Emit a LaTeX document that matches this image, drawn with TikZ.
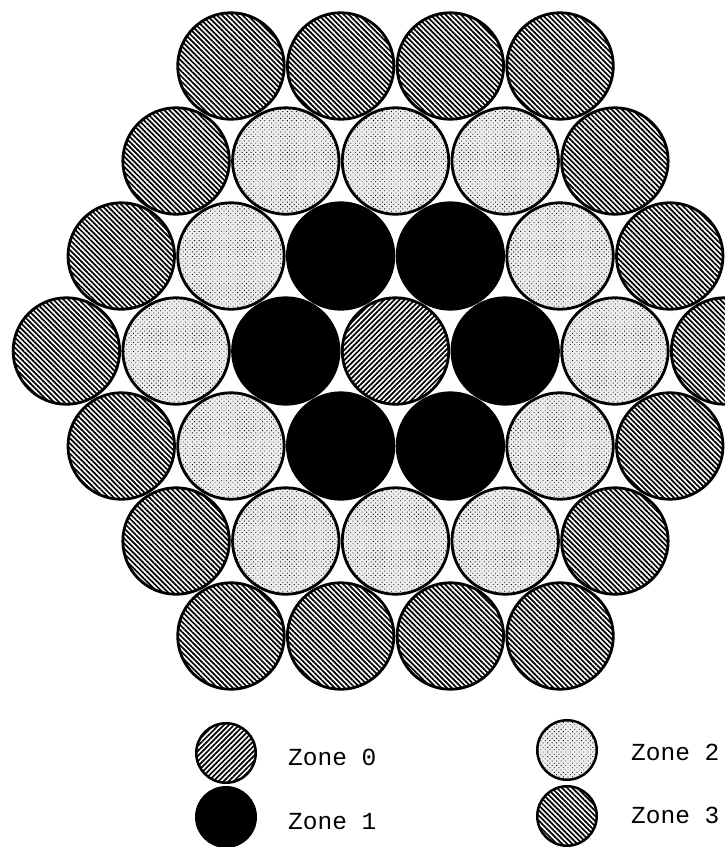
\documentclass[tikz,border=0pt]{standalone}
\usepackage{fontspec}
\setmonofont{Liberation Mono}
\usetikzlibrary{patterns.meta}
\tikzset{
  cell/.style={circle, inner sep=0pt, minimum size=106.5pt, line width=2.8pt, draw=black},
  leg/.style={circle, inner sep=0pt, minimum size=59.5pt, line width=2.5pt, draw=black},
  zone0/.style={pattern={Lines[angle=45,distance=3.6pt,line width=1.7pt]}},
  zone1/.style={fill=black},
  zone2/.style={fill=black!7, postaction={pattern={Dots[angle=45,distance=3.2pt,radius=0.6pt]}}},
  zone3/.style={pattern={Lines[angle=-45,distance=3.6pt,line width=1.7pt]}},
  lab/.style={anchor=base west, inner sep=0pt, font=\ttfamily\fontsize{24.5}{24.5}\selectfont}
}
\begin{document}
\begin{tikzpicture}[x=1pt,y=-1pt]
\useasboundingbox (0,0) rectangle (725,847);
\begin{scope}
\clip (0,0) rectangle (725,847);
\foreach \r/\zones in {0/{3,3,3,3},1/{3,2,2,2,3},2/{3,2,1,1,2,3},3/{3,2,1,0,1,2,3},4/{3,2,1,1,2,3},5/{3,2,2,2,3},6/{3,3,3,3}}{
  \foreach \z [count=\i] in \zones {
    \pgfmathsetmacro\n{7-abs(\r-3)}
    \pgfmathsetmacro\xx{395.5-(\n-1)/2*109.7+(\i-1)*109.7}
    \pgfmathsetmacro\yy{66+95*\r}
    \node[cell, zone\z] (c-\r-\i) at (\xx,\yy) {};
  }
}
\end{scope}
\node[leg, zone0] (l0) at (226,753) {};
\node[leg, zone1] (l1) at (226,817) {};
\node[leg, zone2] (l2) at (567,750) {};
\node[leg, zone3] (l3) at (567,816) {};
\node[lab] (t0) at (288,765) {Zone 0};
\node[lab] (t1) at (288,829) {Zone 1};
\node[lab] (t2) at (631,760) {Zone 2};
\node[lab] (t3) at (631,823) {Zone 3};
\end{tikzpicture}
\end{document}
